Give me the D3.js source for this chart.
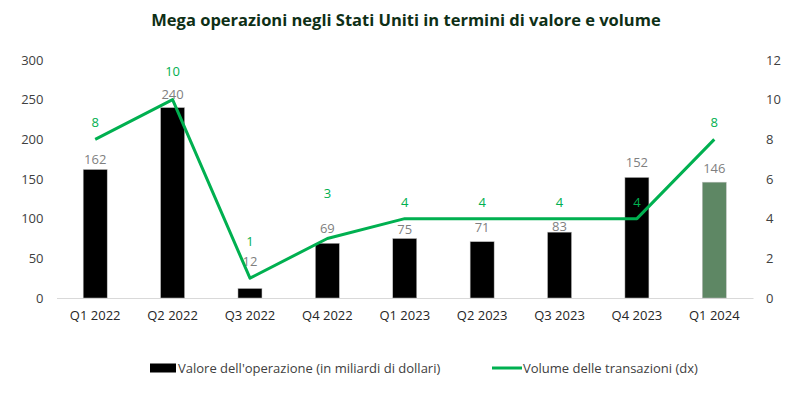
<!DOCTYPE html>
<html>
<head>
<meta charset="utf-8">
<script src="https://cdn.jsdelivr.net/npm/d3@7"></script>
<style>
    body { margin: 0; background: #fff; }
    svg text { font-family: "Open Sans", sans-serif; }
</style>
</head>
<body>
<svg id="gfx" width="800" height="400"></svg>
<script>
// data
const quarters = ["Q1 2022", "Q2 2022", "Q3 2022", "Q4 2022", "Q1 2023", "Q2 2023", "Q3 2023", "Q4 2023", "Q1 2024"];
const dealValue = [162, 240, 12, 69, 75, 71, 83, 152, 146];
const dealVolume = [8, 10, 1, 3, 4, 4, 4, 4, 8];
const leftTicks = [0, 50, 100, 150, 200, 250, 300];
const rightTicks = [0, 2, 4, 6, 8, 10, 12];

// label nudges (px above the mark), as placed in the original
const valueLabelGap = [5, 9, 22, 10, 5, 10, 1, 10, 9];
const volumeLabelGap = [12, 24, 32, 41, 12, 12, 12, 12, 12];

const plot = { left: 56.5, right: 753, top: 60, bottom: 298 };
const fontSize = 13;

const svg = d3.select("#gfx");

const x = d3.scaleBand()
    .domain(quarters)
    .range([plot.left, plot.right])
    .paddingInner(0.69)
    .paddingOuter(0.345);

const yLeft = d3.scaleLinear().domain([0, 300]).range([plot.bottom, plot.top]);
const yRight = d3.scaleLinear().domain([0, 12]).range([plot.bottom, plot.top]);

// title
svg.append("text")
    .attr("x", 406)
    .attr("y", 26)
    .attr("text-anchor", "middle")
    .attr("font-size", 16.5)
    .attr("font-weight", "bold")
    .attr("fill", "#0e2f16")
    .text("Mega operazioni negli Stati Uniti in termini di valore e volume");

// left axis
const axL = svg.append("g")
    .attr("transform", "translate(" + (plot.left - 13) + ",0)")
    .call(d3.axisLeft(yLeft).tickValues(leftTicks).tickSize(0).tickPadding(0));
axL.select(".domain").remove();
axL.selectAll("text").attr("font-size", fontSize).attr("fill", "#404040");

// right axis
const axR = svg.append("g")
    .attr("transform", "translate(" + (plot.right + 13) + ",0)")
    .call(d3.axisRight(yRight).tickValues(rightTicks).tickSize(0).tickPadding(0));
axR.select(".domain").remove();
axR.selectAll("text").attr("font-size", fontSize).attr("fill", "#404040");

// bottom axis
const axB = svg.append("g")
    .attr("transform", "translate(0," + plot.bottom + ")")
    .call(d3.axisBottom(x).tickSize(0).tickPadding(13));
axB.select(".domain").attr("stroke", "#d9d9d9").attr("stroke-width", 1);
axB.selectAll("text").attr("font-size", fontSize).attr("fill", "#262626");

// bars
svg.append("g").selectAll("rect")
    .data(dealValue)
    .join("rect")
    .attr("x", (d, i) => x(quarters[i]))
    .attr("y", d => yLeft(d))
    .attr("width", x.bandwidth())
    .attr("height", d => plot.bottom - yLeft(d))
    .attr("fill", (d, i) => i === quarters.length - 1 ? "#5e8764" : "#000")
    .attr("stroke", "#bfbfbf")
    .attr("stroke-width", 0.5);

svg.append("g").selectAll("text")
    .data(dealValue)
    .join("text")
    .attr("x", (d, i) => x(quarters[i]) + x.bandwidth() / 2)
    .attr("y", (d, i) => yLeft(d) - valueLabelGap[i])
    .attr("text-anchor", "middle")
    .attr("font-size", fontSize)
    .attr("fill", "#7f7f7f")
    .text(d => d);

// volume line
const line = d3.line()
    .x((d, i) => x(quarters[i]) + x.bandwidth() / 2)
    .y(d => yRight(d));

svg.append("path")
    .datum(dealVolume)
    .attr("d", line)
    .attr("fill", "none")
    .attr("stroke", "#00b050")
    .attr("stroke-width", 3)
    .attr("stroke-linejoin", "round");

svg.append("g").selectAll("text")
    .data(dealVolume)
    .join("text")
    .attr("x", (d, i) => x(quarters[i]) + x.bandwidth() / 2)
    .attr("y", (d, i) => yRight(d) - volumeLabelGap[i])
    .attr("text-anchor", "middle")
    .attr("font-size", fontSize)
    .attr("fill", "#00b050")
    .text(d => d);

// legend
const legend = svg.append("g").attr("transform", "translate(0,368)");
legend.append("rect")
    .attr("x", 150).attr("y", -4.5)
    .attr("width", 26).attr("height", 9)
    .attr("fill", "#000");
legend.append("text")
    .attr("x", 178).attr("y", 0).attr("dy", "0.35em")
    .attr("font-size", fontSize).attr("fill", "#404040")
    .text("Valore dell'operazione (in miliardi di dollari)");
legend.append("line")
    .attr("x1", 492).attr("x2", 522)
    .attr("stroke", "#00b050").attr("stroke-width", 3);
legend.append("text")
    .attr("x", 523).attr("y", 0).attr("dy", "0.35em")
    .attr("font-size", fontSize).attr("fill", "#404040")
    .text("Volume delle transazioni (dx)");
</script>
</body>
</html>
